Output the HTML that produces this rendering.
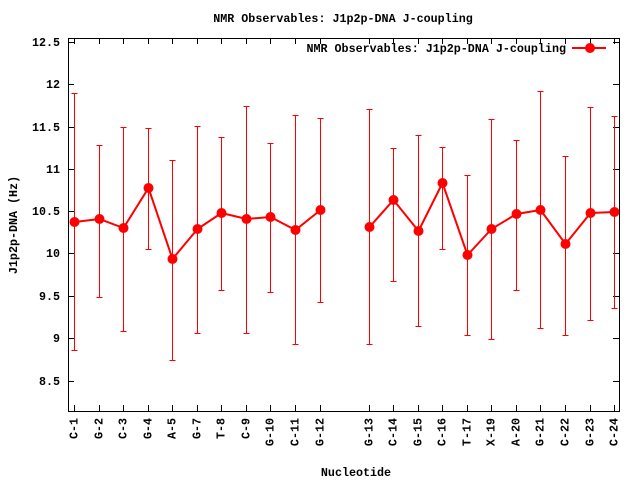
<!DOCTYPE html>
<html><head><meta charset="utf-8"><style>body{margin:0;background:#fff}svg text{font-family:"Liberation Mono",monospace;font-weight:bold;font-size:11.7px;fill:#000}</style></head><body>
<svg width="640" height="480" xmlns="http://www.w3.org/2000/svg" id="s">
<rect width="640" height="480" fill="#fff"/>
<text x="343" y="22" text-anchor="middle">NMR Observables: J1p2p-DNA J-coupling</text>
<g id="ax" stroke="#000" stroke-width="1" fill="none"><rect x="68.5" y="38.5" width="551" height="373"/></g>
<g id="yl"></g>
<text x="356" y="476" text-anchor="middle">Nucleotide</text>
<text transform="translate(17,225) rotate(-90)" text-anchor="middle">J1p2p-DNA (Hz)</text>
<text x="566" y="52" text-anchor="end">NMR Observables: J1p2p-DNA J-coupling</text>
<line x1="572" y1="48" x2="606" y2="48" stroke="#f00" stroke-width="2"/>
<circle cx="590" cy="48" r="5" fill="#f00"/>
<g id="d"></g>
</svg>
<script>
var ns="http://www.w3.org/2000/svg",s=document.getElementById('s');
function el(t,a,p,txt){var e=document.createElementNS(ns,t);for(var k in a)e.setAttribute(k,a[k]);if(txt)e.textContent=txt;(p||s).appendChild(e);return e}
var ax=document.getElementById('ax'),d=document.getElementById('d');
var yt=[[12.5,42],[12,84],[11.5,127],[11,169],[10.5,211],[10,253],[9.5,296],[9,338],[8.5,381]];
yt.forEach(function(t){var y=t[1]+.5;el('line',{x1:68,y1:y,x2:74,y2:y},ax);el('line',{x1:613,y1:y,x2:619,y2:y},ax);el('text',{x:60,y:t[1]+4,'text-anchor':'end'},null,String(t[0]))});
var L=['C-1','G-2','C-3','G-4','A-5','G-7','T-8','C-9','G-10','C-11','G-12',null,'G-13','C-14','G-15','C-16','T-17','X-19','A-20','G-21','C-22','G-23','C-24'];
var py=[222,219,228,188,259,229,213,219,217,230,210,null,227,200,231,183,255,229,214,210,244,213,212];
var eb=[[93,350],[145,297],[127,331],[128,249],[160,360],[126,333],[137,290],[106,333],[143,292],[115,344],[118,302],null,[109,344],[148,281],[135,326],[147,249],[175,335],[119,339],[140,290],[91,328],[156,335],[107,320],[116,308]];
var pts=[[],[]];
L.forEach(function(l,i){var x=74+i*24.55;if(!l)return;var xr=Math.round(x)+.5;
el('line',{x1:xr,y1:38,x2:xr,y2:44},ax);el('line',{x1:xr,y1:405,x2:xr,y2:411},ax);
el('text',{transform:'translate('+(xr+3)+',418) rotate(-90)','text-anchor':'end'},null,l);
var e=eb[i];el('line',{x1:xr,y1:e[0],x2:xr,y2:e[1],stroke:'#f00'},d);
el('line',{x1:xr-3,y1:e[0]+.5,x2:xr+3,y2:e[0]+.5,stroke:'#f00'},d);el('line',{x1:xr-3,y1:e[1]+.5,x2:xr+3,y2:e[1]+.5,stroke:'#f00'},d);
pts[i<11?0:1].push(xr+','+py[i]);});
pts.forEach(function(p){el('polyline',{points:p.join(' '),fill:'none',stroke:'#f00','stroke-width':2},d)});
L.forEach(function(l,i){if(!l)return;el('circle',{cx:Math.round(74+i*24.55)+.5,cy:py[i],r:5,fill:'#f00'},d)});
</script>
</body></html>
